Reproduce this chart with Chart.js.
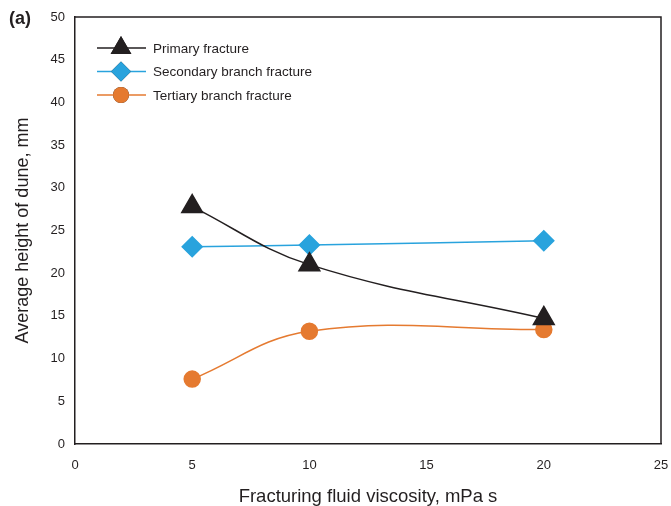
<!DOCTYPE html>
<html>
<head>
<meta charset="utf-8">
<script src="https://cdn.jsdelivr.net/npm/chart.js@4"></script>
<style>
  html, body { margin: 0; padding: 0; background: #fff; }
  #wrap { width: 671px; height: 506px; }
</style>
</head>
<body>
<div id="wrap"><canvas id="dune-chart" width="671" height="506"></canvas></div>
<script>
// data
var viscosity = [5, 10, 20]
var primary = [27.8, 21.0, 14.7]
var secondary = [23.1, 23.3, 23.8]
var tertiary = [7.6, 13.2, 13.4]
var seriesNames = ['Primary fracture', 'Secondary branch fracture', 'Tertiary branch fracture']
var xTicks = [0, 5, 10, 15, 20, 25]
var yTicks = [0, 5, 10, 15, 20, 25, 30, 35, 40, 45, 50]

var FONT = '"Liberation Sans", Arial, sans-serif'
var INK = '#231f20'

function pts(ys) {
    return viscosity.map(function (x, i) { return { x: x, y: ys[i] } })
}

// frame round the plot, the "(a)" tag and the legend inside the plot
const extras = {
    id: 'extras',
    afterDraw: function (chart) {
        var ctx = chart.ctx
        var a = chart.chartArea
        ctx.save()
        ctx.strokeStyle = INK
        ctx.lineWidth = 1.5
        ctx.beginPath()
        ctx.moveTo(a.left, a.top)
        ctx.lineTo(a.right, a.top)
        ctx.lineTo(a.right, a.bottom)
        ctx.stroke()

        ctx.fillStyle = INK
        ctx.font = 'bold 18px ' + FONT
        ctx.textBaseline = 'middle'
        ctx.textAlign = 'left'
        ctx.fillText('(a)', 9, 19)

        chart.data.datasets.forEach(function (ds, i) {
            var y = 48 + i * 23.5
            ctx.strokeStyle = ds.borderColor
            ctx.lineWidth = 1.5
            ctx.beginPath()
            ctx.moveTo(97, y)
            ctx.lineTo(146, y)
            ctx.stroke()
            Chart.helpers.drawPoint(ctx, {
                pointStyle: ds.pointStyle,
                rotation: 0,
                radius: ds.pointRadius,
                borderWidth: 0
            }, 121, y)
            ctx.fillStyle = ds.pointBackgroundColor
            ctx.fill()
            ctx.fillStyle = INK
            ctx.font = '13.5px ' + FONT
            ctx.fillText(ds.label, 153, y + 1)
        })
        ctx.restore()
    }
}

const config = {
    type: 'line',
    data: {
        datasets: [{
            label: seriesNames[0],
            data: pts(primary),
            borderColor: INK,
            pointBackgroundColor: INK,
            pointBorderColor: INK,
            pointStyle: 'triangle',
            pointRadius: 12,
            borderWidth: 1.5,
            tension: 0.4
        }, {
            label: seriesNames[1],
            data: pts(secondary),
            borderColor: '#29a3dd',
            pointBackgroundColor: '#29a3dd',
            pointBorderColor: '#29a3dd',
            pointStyle: 'rectRot',
            pointRadius: 10,
            borderWidth: 1.5,
            tension: 0.4
        }, {
            label: seriesNames[2],
            data: pts(tertiary),
            borderColor: '#e57a30',
            pointBackgroundColor: '#e57a30',
            pointBorderColor: '#e57a30',
            pointStyle: 'circle',
            pointRadius: 8,
            borderWidth: 1.5,
            tension: 0.4
        }]
    },
    options: {
        responsive: false,
        animation: false,
        layout: { autoPadding: false, padding: { left: 0, top: 17, right: 10, bottom: 0 } },
        plugins: {
            legend: { display: false },
            tooltip: { enabled: false }
        },
        scales: {
            x: {
                type: 'linear',
                min: 0,
                max: 25,
                afterBuildTicks: function (s) { s.ticks = xTicks.map(function (v) { return { value: v } }) },
                afterFit: function (s) {
                    s.height = 62
                    s.paddingLeft = 0
                    s.paddingRight = 0
                },
                grid: { display: false, drawTicks: true, tickLength: 5, tickColor: INK },
                border: { color: INK, width: 1.5 },
                ticks: { color: INK, font: { family: FONT, size: 13 }, padding: 9 },
                title: {
                    display: true,
                    text: 'Fracturing fluid viscosity, mPa s',
                    color: INK,
                    font: { family: FONT, size: 18.5 },
                    padding: { top: 0, bottom: -2 }
                }
            },
            y: {
                min: 0,
                max: 50,
                afterBuildTicks: function (s) { s.ticks = yTicks.map(function (v) { return { value: v } }) },
                afterFit: function (s) {
                    s.width = 75
                    s.paddingTop = 0
                    s.paddingBottom = 0
                },
                grid: { display: false, drawTicks: true, tickLength: 5, tickColor: INK },
                border: { color: INK, width: 1.5 },
                ticks: { color: INK, font: { family: FONT, size: 13 }, padding: 5 },
                title: {
                    display: true,
                    text: 'Average height of dune, mm',
                    color: INK,
                    font: { family: FONT, size: 18 },
                    padding: { top: 12, bottom: 0 }
                }
            }
        }
    },
    plugins: [extras]
}

const duneChart = new Chart(document.getElementById('dune-chart'), config)
</script>
</body>
</html>
